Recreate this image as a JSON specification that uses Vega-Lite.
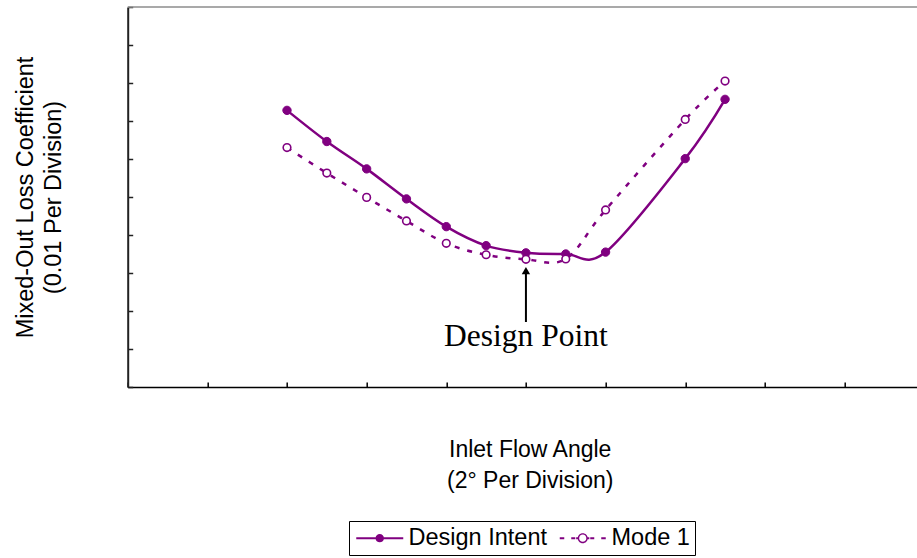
{
  "$schema": "https://vega.github.io/schema/vega-lite/v6.json",
  "width": 789.3,
  "height": 380,
  "autosize": {"type": "none"},
  "padding": {"left": 127.7, "top": 7, "right": 0, "bottom": 171},
  "background": "white",
  "config": {"view": {"stroke": null}, "font": "Liberation Sans"},
  "datasets": {
    "curves": [
      {"angle": 4, "loss": 0.0728, "series": "Design Intent"},
      {"angle": 5, "loss": 0.0646, "series": "Design Intent"},
      {"angle": 6, "loss": 0.0574, "series": "Design Intent"},
      {"angle": 7, "loss": 0.0495, "series": "Design Intent"},
      {"angle": 8, "loss": 0.0422, "series": "Design Intent"},
      {"angle": 9, "loss": 0.0372, "series": "Design Intent"},
      {"angle": 10, "loss": 0.0353, "series": "Design Intent"},
      {"angle": 11, "loss": 0.0350, "series": "Design Intent"},
      {"angle": 12, "loss": 0.0355, "series": "Design Intent"},
      {"angle": 14, "loss": 0.0601, "series": "Design Intent"},
      {"angle": 15, "loss": 0.0757, "series": "Design Intent"},
      {"angle": 4, "loss": 0.0630, "series": "Mode 1"},
      {"angle": 5, "loss": 0.0563, "series": "Mode 1"},
      {"angle": 6, "loss": 0.0499, "series": "Mode 1"},
      {"angle": 7, "loss": 0.0437, "series": "Mode 1"},
      {"angle": 8, "loss": 0.0378, "series": "Mode 1"},
      {"angle": 9, "loss": 0.0348, "series": "Mode 1"},
      {"angle": 10, "loss": 0.0336, "series": "Mode 1"},
      {"angle": 11, "loss": 0.0337, "series": "Mode 1"},
      {"angle": 12, "loss": 0.0466, "series": "Mode 1"},
      {"angle": 14, "loss": 0.0704, "series": "Mode 1"},
      {"angle": 15, "loss": 0.0805, "series": "Mode 1"}
    ],
    "note": [{"angle": 10, "loss": 0.0108, "label": "Design Point"}],
    "arrow": [{"angle": 10, "from": 0.0171, "to": 0.0300, "tip": 0.0306}],
    "frame": [{"top": 0.1}]
  },
  "layer": [
    {
      "data": {"name": "curves"},
      "transform": [{"filter": "datum.series === 'Design Intent'"}],
      "mark": {"type": "line", "interpolate": "cardinal", "color": "#800080", "strokeWidth": 2.5},
      "encoding": {
        "x": {
          "field": "angle",
          "type": "quantitative",
          "scale": {"domain": [0, 19.82], "nice": false, "zero": false},
          "axis": {
            "values": [0, 2, 4, 6, 8, 10, 12, 14, 16, 18],
            "tickCount": 30,
            "labels": false,
            "grid": false,
            "tickSize": -5,
            "tickColor": "black",
            "tickWidth": 1.5,
            "domainColor": "black",
            "domainWidth": 1.5,
            "title": ["Inlet Flow Angle", "(2° Per Division)"],
            "titleFont": "Liberation Sans",
            "titleFontSize": 23,
            "titleFontWeight": "normal",
            "titleColor": "black",
            "titleX": 402,
            "titleY": 69.7,
            "titleAlign": "center",
            "titleBaseline": "alphabetic",
            "titleLineHeight": 31.3
          }
        },
        "y": {
          "field": "loss",
          "type": "quantitative",
          "scale": {"domain": [0, 0.1], "nice": false},
          "axis": {
            "values": [0, 0.01, 0.02, 0.03, 0.04, 0.05, 0.06, 0.07, 0.08, 0.09, 0.1],
            "tickCount": 30,
            "labels": false,
            "grid": false,
            "tickSize": -5,
            "tickColor": "#222222",
            "tickWidth": 1.5,
            "domainColor": "#222222",
            "domainWidth": 2,
            "title": ["Mixed-Out Loss Coefficient", "(0.01 Per Division)"],
            "titleFont": "Liberation Sans",
            "titleFontSize": 23.5,
            "titleFontWeight": "normal",
            "titleColor": "black",
            "titleAngle": 270,
            "titleX": -95.5,
            "titleY": 190,
            "titleAlign": "center",
            "titleBaseline": "alphabetic",
            "titleLineHeight": 28.3
          }
        }
      }
    },
    {
      "data": {"name": "curves"},
      "transform": [{"filter": "datum.series === 'Mode 1'"}],
      "mark": {"type": "line", "interpolate": "cardinal", "color": "#800080", "strokeWidth": 2.5, "strokeDash": [5, 8]},
      "encoding": {
        "x": {"field": "angle", "type": "quantitative"},
        "y": {"field": "loss", "type": "quantitative"}
      }
    },
    {
      "data": {"name": "frame"},
      "mark": {"type": "rule", "color": "#8c8c8c", "strokeWidth": 1.5},
      "encoding": {
        "y": {"field": "top", "type": "quantitative"}
      }
    },
    {
      "data": {"name": "curves"},
      "mark": {"type": "point", "shape": "circle", "filled": true, "opacity": 1, "stroke": "#800080"},
      "encoding": {
        "x": {"field": "angle", "type": "quantitative"},
        "y": {"field": "loss", "type": "quantitative"},
        "fill": {"condition": {"test": "datum.series === 'Mode 1'", "value": "#ffffff"}, "value": "#800080"},
        "size": {"condition": {"test": "datum.series === 'Mode 1'", "value": 58}, "value": 70},
        "strokeWidth": {"condition": {"test": "datum.series === 'Mode 1'", "value": 1.6}, "value": 1}
      }
    },
    {
      "data": {"name": "arrow"},
      "mark": {"type": "rule", "color": "black", "strokeWidth": 2},
      "encoding": {
        "x": {"field": "angle", "type": "quantitative"},
        "y": {"field": "from", "type": "quantitative"},
        "y2": {"field": "to"}
      }
    },
    {
      "data": {"name": "arrow"},
      "mark": {"type": "point", "shape": "triangle-up", "filled": true, "color": "black", "opacity": 1, "size": 70},
      "encoding": {
        "x": {"field": "angle", "type": "quantitative"},
        "y": {"field": "tip", "type": "quantitative"}
      }
    },
    {
      "data": {"name": "note"},
      "mark": {"type": "text", "font": "Liberation Serif", "fontSize": 31.5, "align": "center", "baseline": "alphabetic", "color": "black"},
      "encoding": {
        "x": {"field": "angle", "type": "quantitative"},
        "y": {"field": "loss", "type": "quantitative"},
        "text": {"field": "label"}
      }
    },
    {
      "data": {"name": "curves"},
      "mark": {"type": "point", "filled": true, "color": "#800080", "opacity": 0, "size": 400},
      "encoding": {
        "shape": {
          "field": "series",
          "type": "nominal",
          "scale": {
            "domain": ["Design Intent", "Mode 1"],
            "range": [
              "M-2.35,-0.1H2.35V0.1H-2.35ZM0.42,0A0.42,0.42,0,1,1,-0.42,0A0.42,0.42,0,1,1,0.42,0Z",
              "M-2.3,-0.1H-1.85V0.1H-2.3ZM-1.15,-0.1H-0.75V0.1H-1.15ZM-0.66,-0.1H-0.45V0.1H-0.66ZM0.45,-0.1H0.66V0.1H0.45ZM0.75,-0.1H1.15V0.1H0.75ZM1.85,-0.1H2.3V0.1H1.85ZM0.5,0A0.5,0.5,0,1,1,-0.5,0A0.5,0.5,0,1,1,0.5,0ZM0.36,0A0.36,0.36,0,1,0,-0.36,0A0.36,0.36,0,1,0,0.36,0Z"
            ]
          },
          "legend": {
            "title": null,
            "orient": "none",
            "legendX": 221.3,
            "legendY": 514,
            "direction": "horizontal",
            "strokeColor": "black",
            "padding": 5,
            "symbolSize": 400,
            "symbolOpacity": 1,
            "symbolFillColor": "#800080",
            "symbolStrokeWidth": 0,
            "symbolOffset": 14,
            "labelOffset": 17,
            "labelFont": "Liberation Sans",
            "labelFontSize": 23.5,
            "labelColor": "black",
            "labelLimit": 0,
            "columnPadding": 10
          }
        }
      }
    }
  ]
}
